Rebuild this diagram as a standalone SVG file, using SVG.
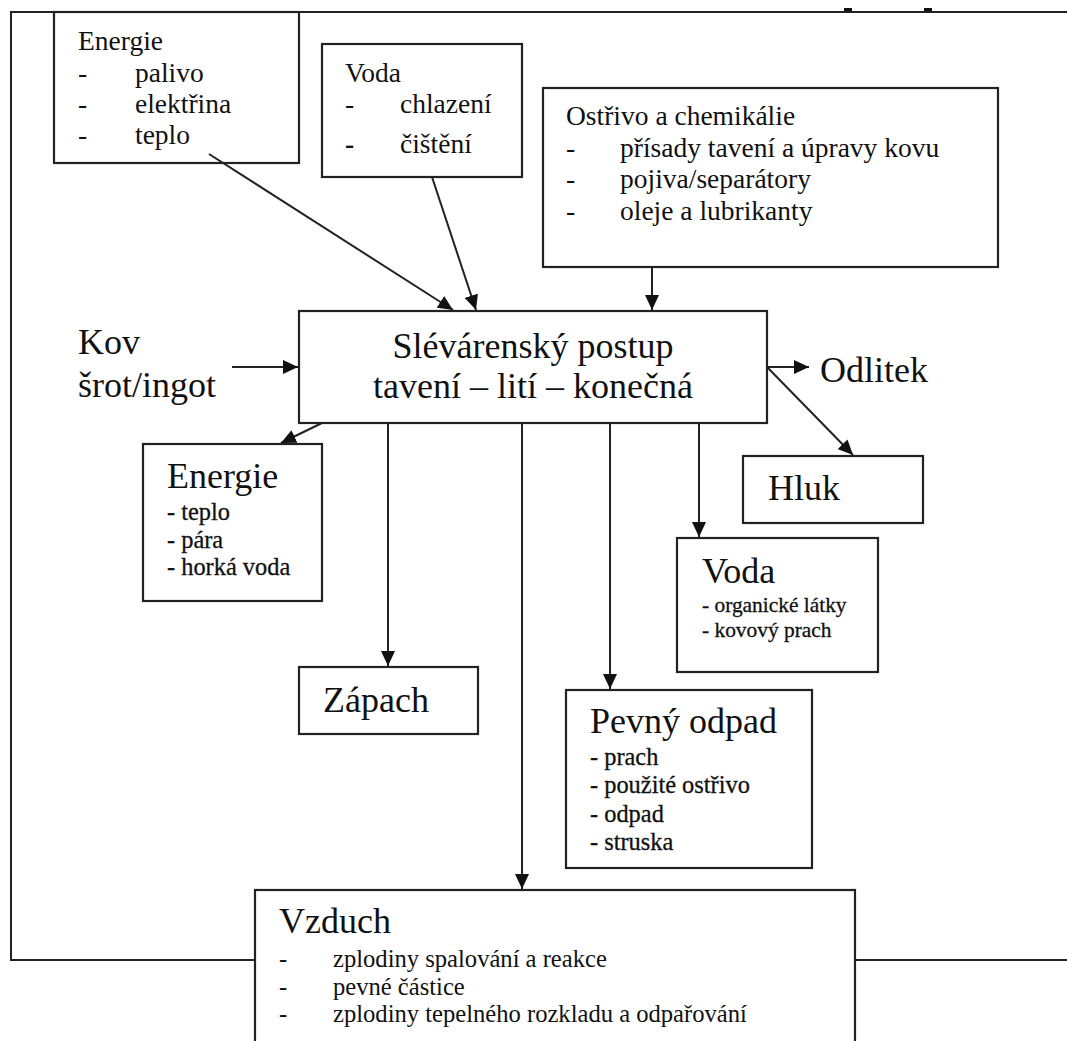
<svg xmlns="http://www.w3.org/2000/svg" width="1067" height="1041" viewBox="0 0 1067 1041">
  <defs>
    <marker id="arrow" markerUnits="userSpaceOnUse" markerWidth="16" markerHeight="14" refX="15" refY="7" orient="auto">
      <path d="M0,0 L15,7 L0,14 z" fill="#111"/>
    </marker>
    <style>
      text { font-family: "Liberation Serif", "Times New Roman", serif; fill: #111; }
      .box { fill: #fff; stroke: #222; stroke-width: 2.2; }
      .frame { fill: none; stroke: #222; stroke-width: 2; }
      .link { fill: none; stroke: #222; stroke-width: 2; marker-end: url(#arrow); }
      .t27 { font-size: 27.5px; }
      .t36 { font-size: 36px; }
      .t25 { font-size: 24.6px; }
      .m24 { font-size: 24.4px; stroke: #111; stroke-width: 0.3px; }
      .m21 { font-size: 21.4px; stroke: #111; stroke-width: 0.3px; }
    </style>
  </defs>

  <rect width="1067" height="1041" fill="#fff"/>

  <!-- outer frame of the process boundary -->
  <path class="frame" d="M1067,12 H11 V960 H255 M855,960 H1067"/>
  <!-- descender fragments of text above the frame -->
  <rect x="844" y="8" width="8" height="3" fill="#111"/>
  <rect x="924" y="8" width="8" height="3" fill="#111"/>

  <!-- inputs -->
  <g id="energie-vstup">
    <rect class="box" x="54" y="12" width="245" height="151"/>
    <text class="t27" x="78" y="50">Energie</text>
    <text class="t27" x="78" y="82">-</text><text class="t27" x="135" y="82">palivo</text>
    <text class="t27" x="78" y="113">-</text><text class="t27" x="135" y="113">elektřina</text>
    <text class="t27" x="78" y="144">-</text><text class="t27" x="135" y="144">teplo</text>
  </g>

  <g id="voda-vstup">
    <rect class="box" x="322" y="44" width="200" height="133"/>
    <text class="t27" x="345" y="82">Voda</text>
    <text class="t27" x="345" y="113">-</text><text class="t27" x="400" y="113">chlazení</text>
    <text class="t27" x="345" y="153" font-weight="bold">-</text><text class="t27" x="400" y="153">čištění</text>
  </g>

  <g id="ostrivo">
    <rect class="box" x="543" y="88" width="455" height="179"/>
    <text class="t27" x="566" y="125">Ostřivo a chemikálie</text>
    <text class="t27" x="566" y="157">-</text><text class="t27" x="620" y="157">přísady tavení a úpravy kovu</text>
    <text class="t27" x="566" y="188">-</text><text class="t27" x="620" y="188">pojiva/separátory</text>
    <text class="t27" x="566" y="220">-</text><text class="t27" x="620" y="220">oleje a lubrikanty</text>
  </g>

  <g id="kov">
    <text class="t36" x="78" y="354">Kov</text>
    <text class="t36" x="78" y="397">šrot/ingot</text>
  </g>

  <!-- central process -->
  <g id="postup">
    <rect class="box" x="299" y="311" width="468" height="112"/>
    <text class="t36" x="533" y="358" text-anchor="middle">Slévárenský postup</text>
    <text class="t36" x="533" y="398" text-anchor="middle">tavení – lití – konečná</text>
  </g>

  <!-- outputs -->
  <g id="odlitek">
    <text class="t36" x="820" y="382">Odlitek</text>
  </g>

  <g id="energie-vystup">
    <rect class="box" x="143" y="444" width="179" height="157"/>
    <text class="t36" x="167" y="488">Energie</text>
    <text class="m24" x="167" y="520">- teplo</text>
    <text class="m24" x="167" y="548">- pára</text>
    <text class="m24" x="167" y="575">- horká voda</text>
  </g>

  <g id="zapach">
    <rect class="box" x="299" y="667" width="179" height="67"/>
    <text class="t36" x="323" y="712">Zápach</text>
  </g>

  <g id="hluk">
    <rect class="box" x="743" y="456" width="180" height="67"/>
    <text class="t36" x="768" y="500">Hluk</text>
  </g>

  <g id="voda-vystup">
    <rect class="box" x="677" y="538" width="201" height="134"/>
    <text class="t36" x="702" y="583">Voda</text>
    <text class="m21" x="702" y="612">- organické látky</text>
    <text class="m21" x="702" y="637">- kovový prach</text>
  </g>

  <g id="pevny-odpad">
    <rect class="box" x="566" y="690" width="246" height="178"/>
    <text class="t36" x="590" y="733">Pevný odpad</text>
    <text class="m24" x="590" y="765">- prach</text>
    <text class="m24" x="590" y="793">- použité ostřivo</text>
    <text class="m24" x="590" y="822">- odpad</text>
    <text class="m24" x="590" y="850">- struska</text>
  </g>

  <g id="vzduch">
    <rect class="box" x="255" y="890" width="600" height="170"/>
    <text class="t36" x="279" y="933">Vzduch</text>
    <text class="t25" x="279" y="967">-</text><text class="t25" x="333" y="967">zplodiny spalování a reakce</text>
    <text class="t25" x="279" y="995">-</text><text class="t25" x="333" y="995">pevné částice</text>
    <text class="t25" x="279" y="1022">-</text><text class="t25" x="333" y="1022">zplodiny tepelného rozkladu a odpařování</text>
  </g>

  <!-- connectors -->
  <g id="connectors">
    <line class="link" x1="209" y1="154" x2="453" y2="310"/>
    <line class="link" x1="432" y1="177" x2="476" y2="310"/>
    <line class="link" x1="652" y1="267" x2="652" y2="310"/>
    <line class="link" x1="232" y1="367" x2="298" y2="367"/>
    <line class="link" x1="767" y1="367" x2="809" y2="367"/>
    <line class="link" x1="768" y1="368" x2="853" y2="455"/>
    <line class="link" x1="322" y1="423" x2="281" y2="443"/>
    <line class="link" x1="388" y1="423" x2="388" y2="666"/>
    <line class="link" x1="522" y1="423" x2="522" y2="889"/>
    <line class="link" x1="610" y1="423" x2="610" y2="689"/>
    <line class="link" x1="699" y1="423" x2="699" y2="537"/>
  </g>
</svg>
